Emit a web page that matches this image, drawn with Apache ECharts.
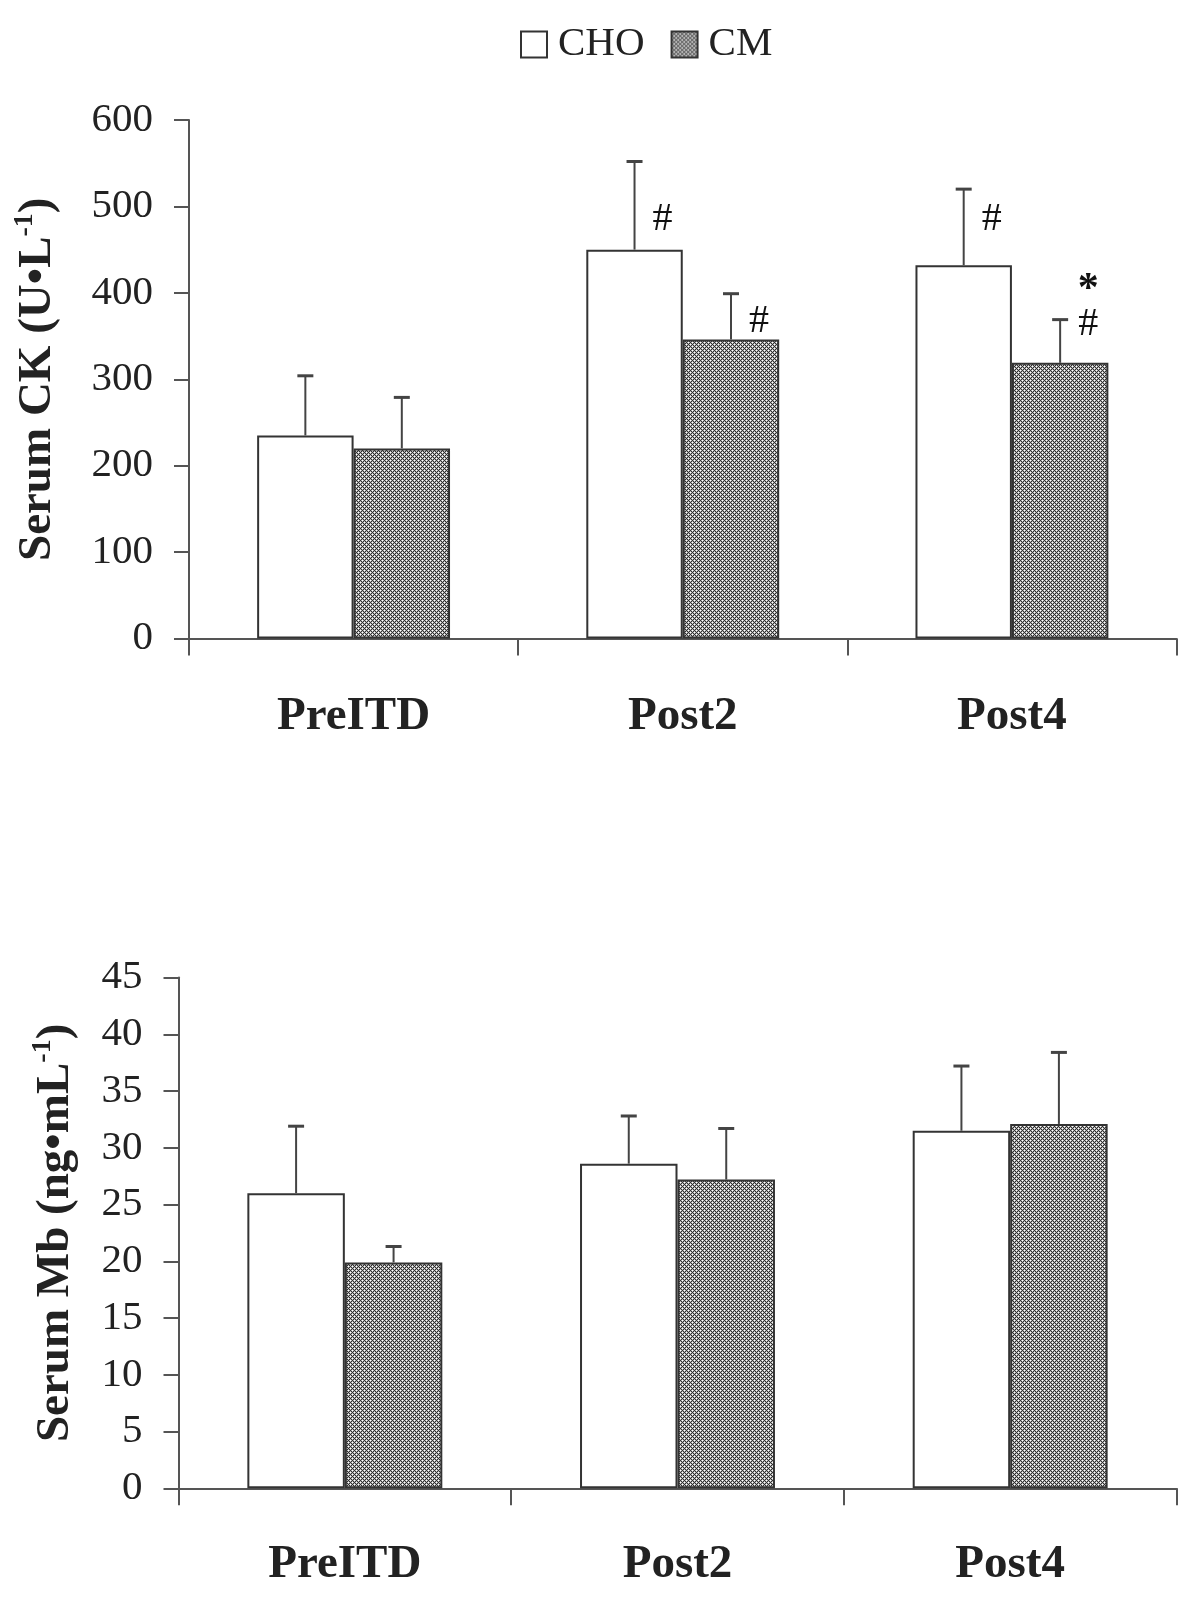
<!DOCTYPE html>
<html>
<head>
<meta charset="utf-8">
<script src="https://cdn.jsdelivr.net/npm/echarts@6/dist/echarts.min.js"></script>
<style>
  html, body { margin: 0; padding: 0; background: #ffffff; }
  #chart { width: 1200px; height: 1600px; }
</style>
</head>
<body>
<div id="chart"></div>
<script>
// ---- data ----
const categories = ['PreITD', 'Post2', 'Post4'];
const seriesNames = ['CHO', 'CM'];

// Serum CK (U•L-1)
const ckCHO = [235, 450, 432];
const ckCHOsd = [69, 102, 88];
const ckCM = [220, 346, 319];
const ckCMsd = [59, 53, 50];
const ckTicks = [0, 100, 200, 300, 400, 500, 600];

// Serum Mb (ng•mL-1)
const mbCHO = [26.0, 28.6, 31.5];
const mbCHOsd = [5.9, 4.2, 5.7];
const mbCM = [19.9, 27.2, 32.1];
const mbCMsd = [1.4, 4.5, 6.3];
const mbTicks = [0, 5, 10, 15, 20, 25, 30, 35, 40, 45];

// significance annotations on the CK chart
const annCategory = ['Post2', 'Post2', 'Post4', 'Post4', 'Post4'];
const annSeries = ['CHO', 'CM', 'CHO', 'CM', 'CM'];
const annValue = [485, 367, 485, 363, 403];
const annText = ['#', '#', '#', '#', '*'];

// ---- styling helpers ----
const SERIF = '"Liberation Serif", "Times New Roman", serif';
const INK = '#222';
const AXIS = '#555';
const BAR_FRAC = 0.293;

function makeHatch() {
  const c = document.createElement('canvas');
  c.width = 4; c.height = 4;
  const ctx = c.getContext('2d');
  for (let x = 0; x < 4; x++) {
    for (let y = 0; y < 4; y++) {
      const a = (x + y) % 4 === 0;
      const b = ((x - y) % 4 + 4) % 4 === 0;
      let col;
      if (a || b) col = '#2e2e2e';
      else if ((x === 0 && y === 2) || (x === 2 && y === 0)) col = '#ffffff';
      else col = '#b4b4b4';
      ctx.fillStyle = col;
      ctx.fillRect(x, y, 1, 1);
    }
  }
  return c;
}
const hatch = { image: makeHatch(), repeat: 'repeat' };

function errRows(means, sds, side) {
  return means.map((m, i) => [i, m, sds[i], side]);
}

function errorRender(params, api) {
  const ci = api.value(0), v = api.value(1), sd = api.value(2), side = api.value(3);
  const band = api.size([1, 0])[0];
  const bw = band * BAR_FRAC;
  const base = api.coord([ci, v]);
  const top = api.coord([ci, v + sd]);
  const x = base[0] + (side === 0 ? -bw / 2 : bw / 2);
  return {
    type: 'group',
    children: [
      { type: 'line', shape: { x1: x, y1: base[1], x2: x, y2: top[1] }, style: { stroke: '#444', lineWidth: 2 } },
      { type: 'line', shape: { x1: x - 8, y1: top[1], x2: x + 8, y2: top[1] }, style: { stroke: '#444', lineWidth: 3 } }
    ]
  };
}

function annRender(params, api) {
  const i = params.dataIndex;
  const ci = api.value(0), v = api.value(1), side = api.value(2);
  const band = api.size([1, 0])[0];
  const bw = band * BAR_FRAC;
  const p = api.coord([ci, v]);
  const x = p[0] + (side === 0 ? -bw / 2 : bw / 2) + 28;
  const isStar = annText[i] === '*';
  return {
    type: 'text',
    x: x, y: p[1],
    style: {
      text: annText[i],
      fontFamily: SERIF,
      fontSize: isStar ? 42 : 40,
      fontWeight: isStar ? 'bold' : 'normal',
      fill: '#111',
      align: 'center',
      verticalAlign: 'middle'
    }
  };
}

function yAxisCfg(gridIndex, ticks, nameRich, nameGap) {
  return {
    type: 'value', gridIndex: gridIndex,
    min: ticks[0], max: ticks[ticks.length - 1],
    interval: ticks[1] - ticks[0],
    name: nameRich,
    nameLocation: 'middle',
    nameGap: nameGap,
    nameRotate: 90,
    nameTextStyle: {
      rich: {
        b: { fontFamily: SERIF, fontWeight: 'bold', fontSize: 47, color: INK, lineHeight: 54 },
        s: { fontFamily: SERIF, fontWeight: 'bold', fontSize: 28, color: INK, lineHeight: 54, verticalAlign: 'top' }
      }
    },
    axisLine: { show: true, lineStyle: { color: AXIS, width: 2 } },
    axisTick: { show: true, length: 15, lineStyle: { color: AXIS, width: 2 } },
    splitLine: { show: false },
    axisLabel: { fontFamily: SERIF, fontSize: 41, color: INK, margin: 36 }
  };
}

function xAxisCfg(gridIndex, margin) {
  return {
    type: 'category', gridIndex: gridIndex, data: categories,
    axisLine: { show: true, lineStyle: { color: AXIS, width: 2 } },
    axisTick: { show: true, length: 17, lineStyle: { color: AXIS, width: 2 } },
    axisLabel: { fontFamily: SERIF, fontSize: 47, fontWeight: 'bold', color: INK, margin: margin }
  };
}

const barStyleCHO = { color: '#ffffff', borderColor: '#333', borderWidth: 2 };
const barStyleCM = { color: hatch, borderColor: '#333', borderWidth: 2 };

const option = {
  backgroundColor: '#ffffff',
  animation: false,
  legend: {
    data: seriesNames,
    left: 515, top: 19,
    icon: 'rect',
    itemWidth: 26, itemHeight: 26, itemGap: 26,
    textStyle: { fontFamily: SERIF, fontSize: 41, color: INK, padding: [0, 0, 0, 6] }
  },
  grid: [
    { left: 189, right: 23.5, top: 120, height: 518.5, containLabel: false },
    { left: 178.5, right: 23.5, top: 977.5, height: 510.8, containLabel: false }
  ],
  xAxis: [xAxisCfg(0, 55), xAxisCfg(1, 53)],
  yAxis: [
    yAxisCfg(0, ckTicks, '{b|Serum CK (U•L}{s|-1}{b|)}', 124),
    yAxisCfg(1, mbTicks, '{b|Serum Mb (ng•mL}{s|-1}{b|)}', 96)
  ],
  series: [
    { name: 'CHO', type: 'bar', xAxisIndex: 0, yAxisIndex: 0, data: ckCHO, barWidth: (BAR_FRAC * 100) + '%', barGap: '0%', itemStyle: barStyleCHO },
    { name: 'CM', type: 'bar', xAxisIndex: 0, yAxisIndex: 0, data: ckCM, barWidth: (BAR_FRAC * 100) + '%', barGap: '0%', itemStyle: barStyleCM },
    { name: 'CHO', type: 'bar', xAxisIndex: 1, yAxisIndex: 1, data: mbCHO, barWidth: (BAR_FRAC * 100) + '%', barGap: '0%', itemStyle: barStyleCHO },
    { name: 'CM', type: 'bar', xAxisIndex: 1, yAxisIndex: 1, data: mbCM, barWidth: (BAR_FRAC * 100) + '%', barGap: '0%', itemStyle: barStyleCM },
    { name: 'errCK', type: 'custom', xAxisIndex: 0, yAxisIndex: 0, z: 5,
      data: errRows(ckCHO, ckCHOsd, 0).concat(errRows(ckCM, ckCMsd, 1)), renderItem: errorRender },
    { name: 'errMb', type: 'custom', xAxisIndex: 1, yAxisIndex: 1, z: 5,
      data: errRows(mbCHO, mbCHOsd, 0).concat(errRows(mbCM, mbCMsd, 1)), renderItem: errorRender },
    { name: 'annCK', type: 'custom', xAxisIndex: 0, yAxisIndex: 0, z: 6,
      data: annCategory.map((c, i) => [categories.indexOf(c), annValue[i], seriesNames.indexOf(annSeries[i])]),
      renderItem: annRender }
  ]
};

const chart = echarts.init(document.getElementById('chart'), null, { renderer: 'canvas' });
chart.setOption(option);
</script>
</body>
</html>
